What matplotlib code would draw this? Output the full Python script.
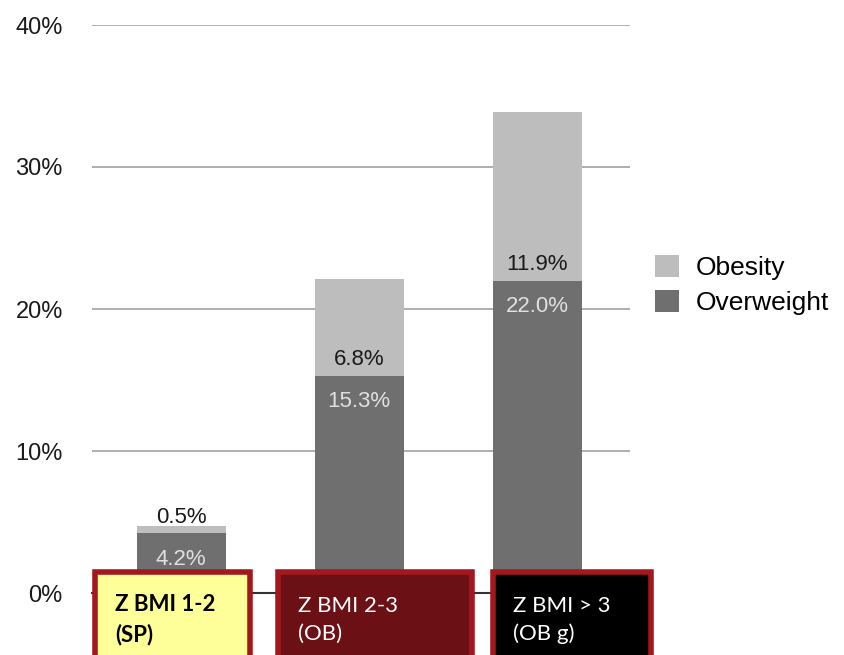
import numpy as np
import matplotlib.pyplot as plt
from matplotlib.patches import Rectangle

groups = ['Z BMI 1-2\n(SP)', 'Z BMI 2-3\n(OB)', 'Z BMI > 3\n(OB g)']
overweight = [4.2, 15.3, 22.0]
obesity = [0.5, 6.8, 11.9]
yticks = [0, 10, 20, 30, 40]

box_fill = ['#FFFF99', '#6B1015', '#000000']
box_text = ['black', 'white', 'white']
box_weight = ['bold', 'normal', 'normal']

c_ow = '#6f6f6f'
c_ob = '#bdbdbd'

fig = plt.figure(figsize=(8.44, 6.55), dpi=100)
ax = fig.add_axes([92 / 844, 62 / 655, (630 - 92) / 844, (593 - 25) / 655])

x = np.arange(len(groups))
ax.bar(x, overweight, width=0.5, color=c_ow, label='Overweight', zorder=3)
ax.bar(x, obesity, width=0.5, bottom=overweight, color=c_ob, label='Obesity', zorder=3)

for xi, ow, ob in zip(x, overweight, obesity):
    ax.text(xi, ow + 0.4, '%.1f%%' % ob, ha='center', va='bottom',
            fontsize=16, color='#1a1a1a', family='Liberation Sans', zorder=4)
    ax.text(xi, ow - 1.1, '%.1f%%' % ow, ha='center', va='top',
            fontsize=16, color='#e0e0e0', family='Liberation Sans', zorder=4)

ax.set_xlim(-0.5, 2.52)
ax.set_ylim(0, 40)
ax.set_yticks(yticks)
ax.set_yticklabels(['%d%%' % t for t in yticks], family='Liberation Sans', fontsize=17, color='#1a1a1a')
ax.tick_params(axis='y', length=0, pad=21)
ax.set_xticks([])
ax.grid(axis='y', color='#a8a8a8', linewidth=1.3, zorder=0)
for s in ['top', 'right', 'left']:
    ax.spines[s].set_visible(False)
ax.spines['bottom'].set_color('#333333')
ax.spines['bottom'].set_linewidth(1.5)

handles, labels = ax.get_legend_handles_labels()
leg = fig.legend(handles[::-1], labels[::-1], loc='center left', bbox_to_anchor=(655 / 844, 1 - 285 / 655),
                 frameon=False, prop={'family': 'Liberation Sans', 'size': 19},
                 handlelength=0.9, handleheight=0.9, handletextpad=0.65, labelspacing=0.35,
                 borderpad=0, borderaxespad=0)

# category boxes under the axis
box_x = [(95, 250), (278, 472), (493, 651)]
for (x0, x1), fc, tc, fw, g in zip(box_x, box_fill, box_text, box_weight, groups):
    r = Rectangle((x0 / 844, -0.05), (x1 - x0) / 844, (655 - 572) / 655 + 0.05,
                  transform=fig.transFigure, facecolor=fc, edgecolor='#A3181F',
                  linewidth=4, clip_on=False, zorder=5)
    fig.add_artist(r)
    fig.text((x0 + 20) / 844, 1 - 620 / 655, g, color=tc, fontweight=fw,
             family='Lato', fontsize=16, va='center', ha='left', linespacing=1.5, zorder=6)

fig.savefig('out.png', dpi=100)
